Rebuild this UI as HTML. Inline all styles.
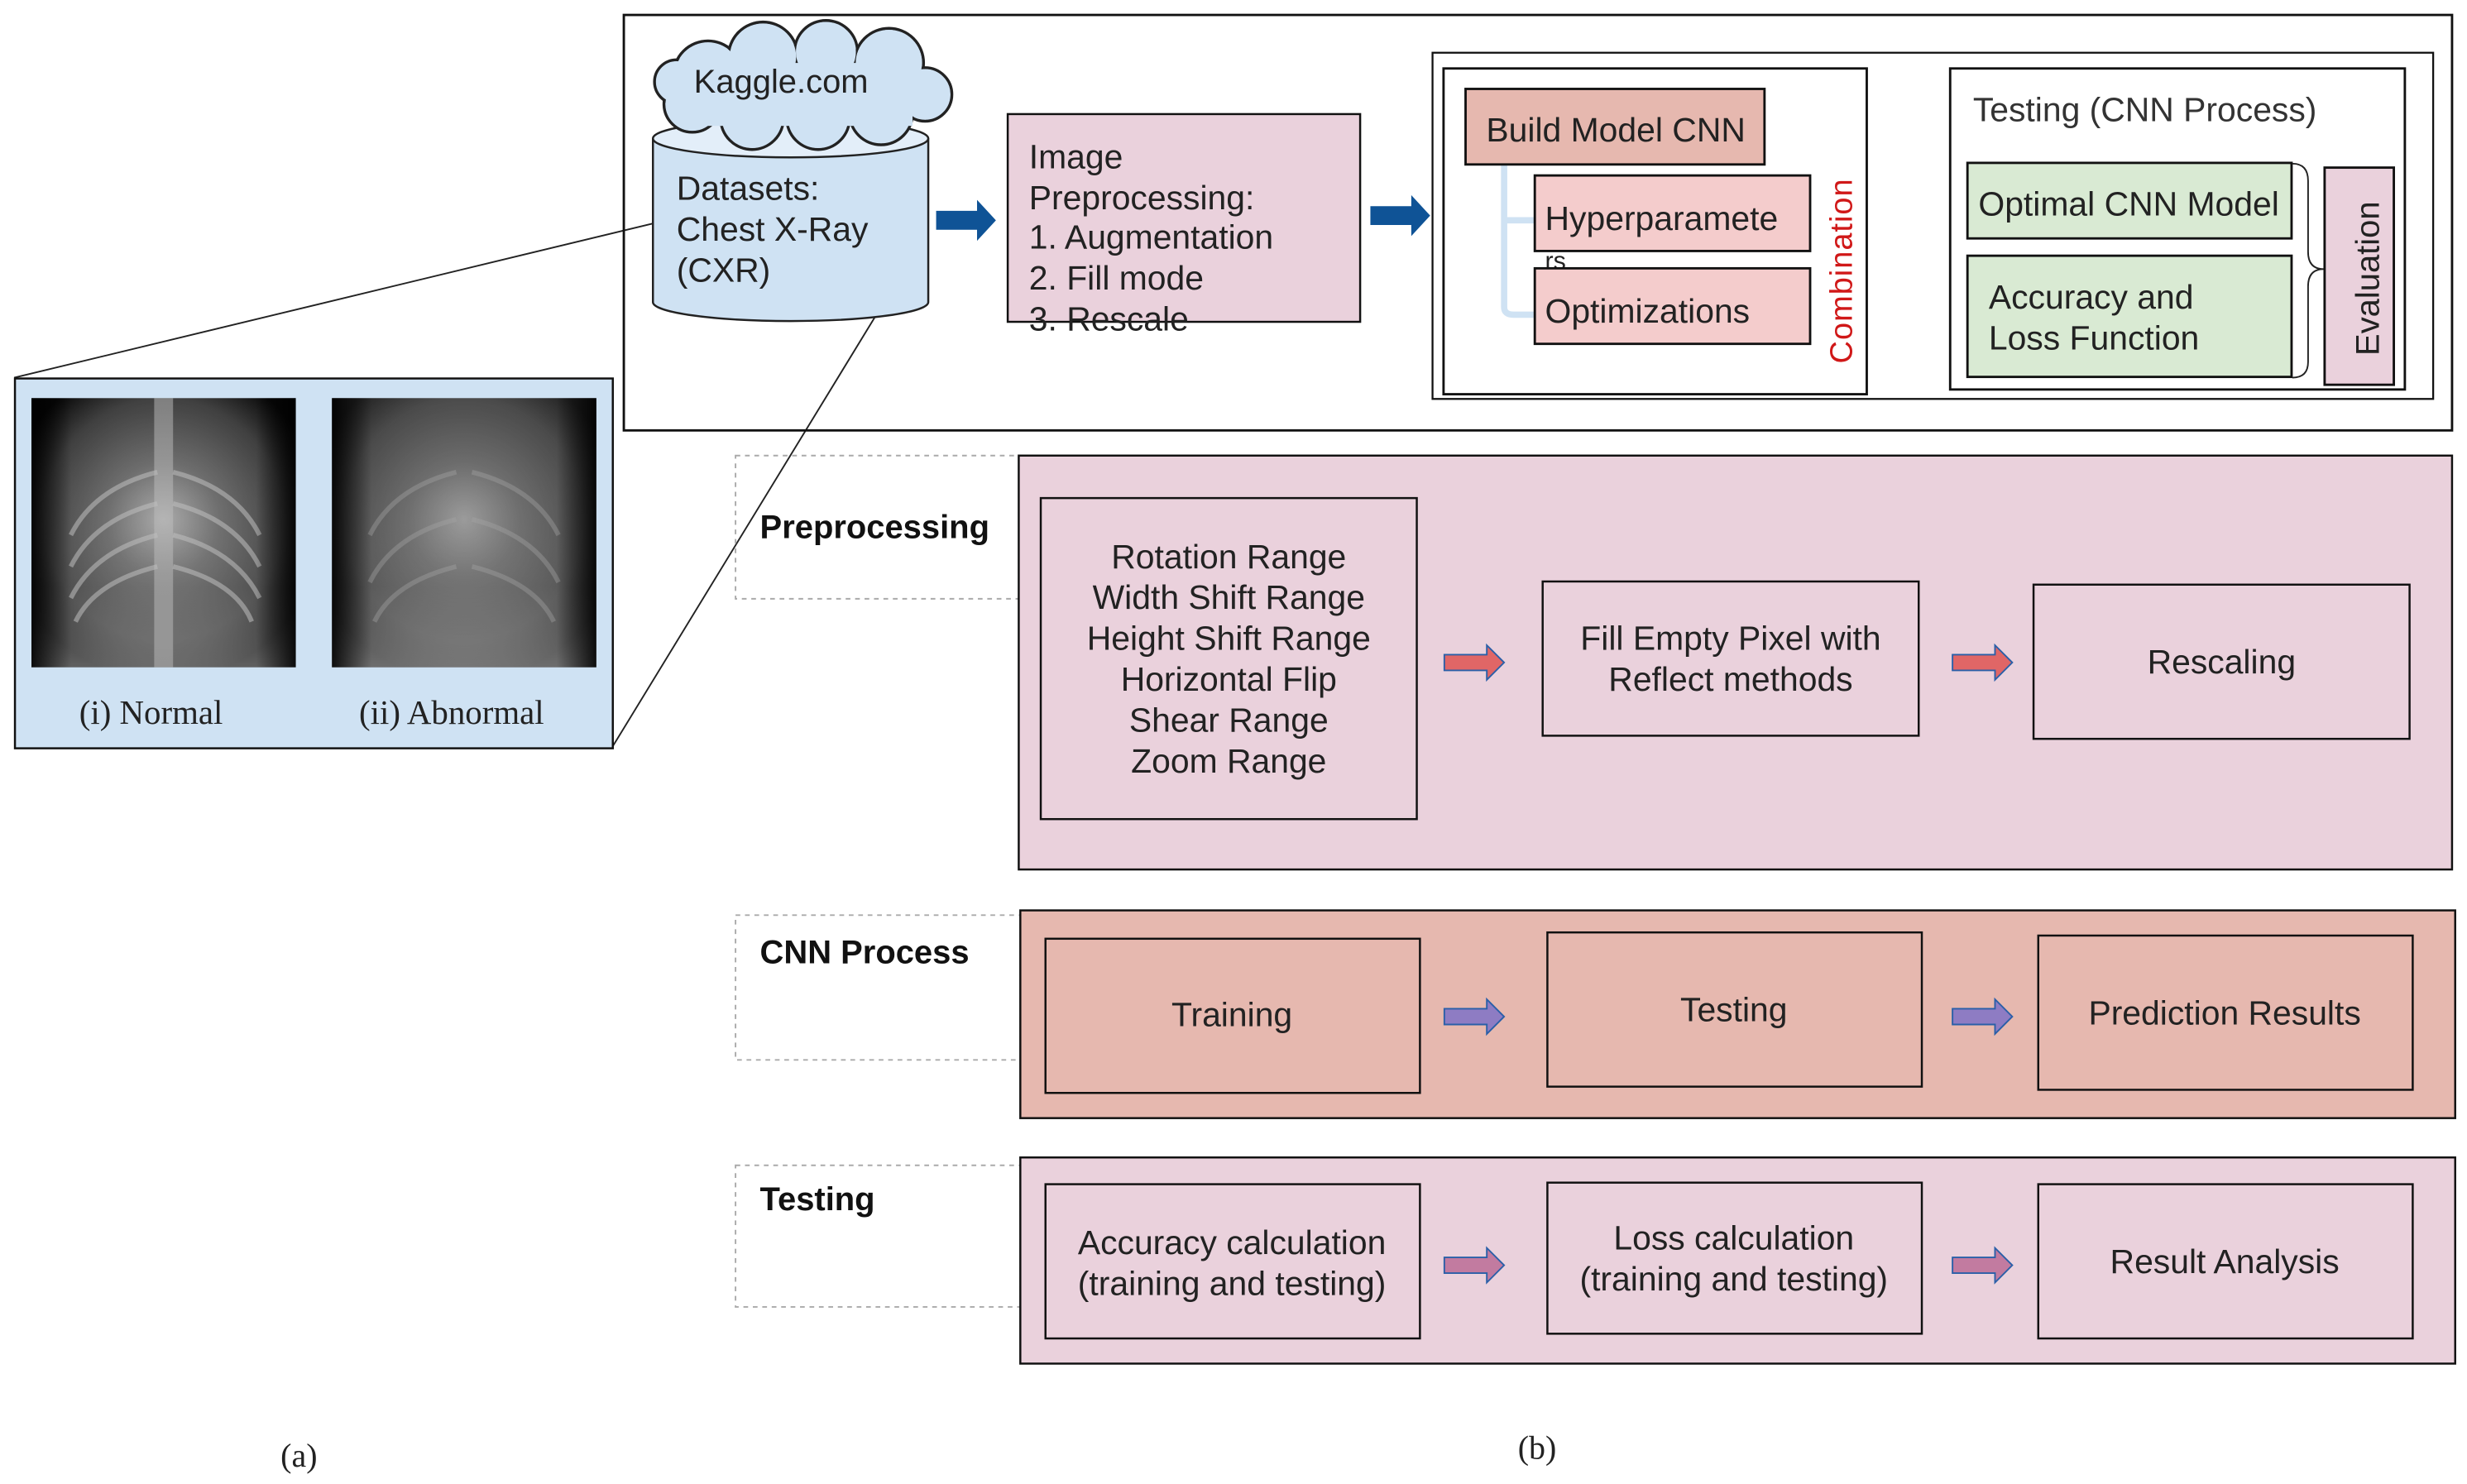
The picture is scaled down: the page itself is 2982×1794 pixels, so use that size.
<!DOCTYPE html>
<html><head><meta charset="utf-8"><style>
html,body{margin:0;padding:0;background:#fff;}
svg{display:block;}
text{font-family:"Liberation Sans",Arial,sans-serif;fill:#222;}
.s{font-family:"Liberation Serif",serif;}
</style></head><body>
<svg width="2982" height="1794" viewBox="0 0 1568 943" preserveAspectRatio="none" xmlns="http://www.w3.org/2000/svg">
<defs>
<radialGradient id="xr1" cx="50%" cy="45%" r="60%">
<stop offset="0" stop-color="#d8d8d8"/><stop offset="0.35" stop-color="#8a8a8a"/><stop offset="0.75" stop-color="#505050"/><stop offset="1" stop-color="#0a0a0a"/>
</radialGradient>
<linearGradient id="xrh" x1="0" y1="0" x2="1" y2="0">
<stop offset="0" stop-color="#000" stop-opacity="0.9"/><stop offset="0.15" stop-color="#000" stop-opacity="0.2"/><stop offset="0.85" stop-color="#000" stop-opacity="0.2"/><stop offset="1" stop-color="#000" stop-opacity="0.9"/>
</linearGradient>
<linearGradient id="xrv" x1="0" y1="0" x2="0" y2="1">
<stop offset="0" stop-color="#000" stop-opacity="0"/><stop offset="0.7" stop-color="#fff" stop-opacity="0.1"/><stop offset="1" stop-color="#fff" stop-opacity="0.45"/>
</linearGradient>
</defs>

<line x1="9" y1="240" x2="415" y2="142" stroke="#222" stroke-width="1"/>
<line x1="389" y1="475" x2="557" y2="200" stroke="#222" stroke-width="1"/>

<rect x="396.5" y="9.5" width="1162" height="264" fill="none" stroke="#111" stroke-width="1.5"/>

<path d="M415,88 V192 A87.5,12 0 0 0 590,192 V88" fill="#cfe2f3" stroke="#222" stroke-width="1.3"/>
<ellipse cx="502.5" cy="88" rx="87.5" ry="12" fill="#e3eef9" stroke="#222" stroke-width="1.3"/>
<text x="430" y="127" font-size="21.5">Datasets:</text>
<text x="430" y="153" font-size="21.5">Chest X-Ray</text>
<text x="430" y="179" font-size="21.5">(CXR)</text>

<g stroke="#222" stroke-width="1.8" fill="#cfe2f3">
<circle cx="450" cy="48" r="22"/><circle cx="485" cy="36" r="22"/><circle cx="525" cy="33" r="20"/><circle cx="565" cy="40" r="22"/><circle cx="588" cy="60" r="17"/><circle cx="560" cy="72" r="20"/><circle cx="520" cy="75" r="20"/><circle cx="478" cy="75" r="20"/><circle cx="440" cy="66" r="18"/><circle cx="430" cy="52" r="14"/>
</g>
<g fill="#cfe2f3">
<circle cx="450" cy="48" r="21"/><circle cx="485" cy="36" r="21"/><circle cx="525" cy="33" r="19"/><circle cx="565" cy="40" r="21"/><circle cx="588" cy="60" r="16"/><circle cx="560" cy="72" r="19"/><circle cx="520" cy="75" r="19"/><circle cx="478" cy="75" r="19"/><circle cx="440" cy="66" r="17"/><circle cx="430" cy="52" r="13"/>
<rect x="440" y="40" width="140" height="40"/>
</g>
<text x="441" y="59" font-size="21">Kaggle.com</text>

<path d="M595,134 H621 V127 L633,140 L621,153 V146 H595 Z" fill="#0f5396"/>
<path d="M871,131 H897 V124 L909,137 L897,150 V143 H871 Z" fill="#0f5396"/>
<path d="M1194,139 H1220 V132 L1232,145 L1220,158 V151 H1194 Z" fill="#0f5396"/>

<rect x="640.5" y="72.5" width="224" height="132" fill="#ead1dc" stroke="#111" stroke-width="1.3"/>
<text x="654" y="107" font-size="21.5">Image</text>
<text x="654" y="133" font-size="21.5">Preprocessing:</text>
<text x="654" y="158" font-size="21.5">1. Augmentation</text>
<text x="654" y="184" font-size="21.5">2. Fill mode</text>
<text x="654" y="210" font-size="21.5">3. Rescale</text>

<rect x="910.5" y="33.5" width="636" height="220" fill="#fff" stroke="#111" stroke-width="1.2"/>
<rect x="917.5" y="43.5" width="269" height="207" fill="#fff" stroke="#111" stroke-width="1.5"/>
<rect x="1239.5" y="43.5" width="289" height="204" fill="#fff" stroke="#111" stroke-width="1.5"/>

<path d="M956,105 V195 Q956,200 962,200 H975 M956,140 H975" fill="none" stroke="#cfe2f3" stroke-width="4"/>
<rect x="931.5" y="56.5" width="190" height="48" fill="#e6b8af" stroke="#111" stroke-width="1.5"/>
<text x="1027" y="90" font-size="21.5" text-anchor="middle">Build Model CNN</text>
<rect x="975.5" y="111.5" width="175" height="48" fill="#f4cccc" stroke="#111" stroke-width="1.5"/>
<text x="982" y="146" font-size="21.5">Hyperparamete</text>
<text x="982" y="171" font-size="16">rs</text>
<rect x="975.5" y="170.5" width="175" height="48" fill="#f4cccc" stroke="#111" stroke-width="1.5"/>
<text x="982" y="205" font-size="21.5">Optimizations</text>
<text transform="translate(1177,231) rotate(-90)" font-size="20" style="fill:#d01818" letter-spacing="0.5">Combination</text>

<text x="1254" y="77" font-size="21.5" style="fill:#333">Testing (CNN Process)</text>
<rect x="1250.5" y="103.5" width="206" height="48" fill="#d9ead3" stroke="#111" stroke-width="1.5"/>
<text x="1353" y="137" font-size="21.5" text-anchor="middle">Optimal CNN Model</text>
<rect x="1250.5" y="162.5" width="206" height="77" fill="#d9ead3" stroke="#111" stroke-width="1.5"/>
<text x="1264" y="196" font-size="21.5">Accuracy and</text>
<text x="1264" y="222" font-size="21.5">Loss Function</text>
<path d="M1457,104 Q1467,104 1467,115 V160 Q1467,171 1477,171 Q1467,171 1467,182 V230 Q1467,240 1457,240" fill="none" stroke="#222" stroke-width="1"/>
<rect x="1477.5" y="106.5" width="44" height="138" fill="#ead1dc" stroke="#111" stroke-width="1.5"/>
<text transform="translate(1512,226) rotate(-90)" font-size="21">Evaluation</text>

<rect x="9.5" y="240.5" width="380" height="235" fill="#cfe2f3" stroke="#111" stroke-width="1.3"/>
<rect x="20" y="253" width="168" height="171" fill="url(#xr1)"/>
<rect x="20" y="253" width="168" height="171" fill="url(#xrv)"/>
<g stroke="#eee" stroke-opacity="0.55" stroke-width="3" fill="none">
<path d="M100,300 Q60,310 45,340 M100,320 Q60,330 45,360 M100,340 Q60,350 45,380 M100,360 Q60,370 48,395"/>
<path d="M110,300 Q150,310 165,340 M110,320 Q150,330 165,360 M110,340 Q150,350 165,380 M110,360 Q150,370 160,395"/>
</g>
<rect x="98" y="253" width="12" height="171" fill="#eee" fill-opacity="0.5"/>
<rect x="20" y="253" width="168" height="171" fill="url(#xrh)"/>
<rect x="211" y="253" width="168" height="171" fill="url(#xr1)"/>
<rect x="211" y="253" width="168" height="171" fill="#888" fill-opacity="0.25"/>
<rect x="211" y="253" width="168" height="171" fill="url(#xrv)"/>
<g stroke="#ccc" stroke-opacity="0.4" stroke-width="3" fill="none">
<path d="M290,300 Q250,310 235,340 M290,330 Q250,340 235,370 M290,360 Q250,370 238,395"/>
<path d="M300,300 Q340,310 355,340 M300,330 Q340,340 355,370 M300,360 Q340,370 352,395"/>
</g>
<rect x="211" y="253" width="168" height="171" fill="url(#xrh)"/>
<text x="96" y="460" font-size="21.5" text-anchor="middle" class="s">(i) Normal</text>
<text x="287" y="460" font-size="21.5" text-anchor="middle" class="s">(ii) Abnormal</text>

<rect x="467.5" y="289.5" width="180" height="91" fill="none" stroke="#aaa" stroke-width="1" stroke-dasharray="3,3"/>
<text x="483" y="342" font-size="21" font-weight="bold" style="fill:#111">Preprocessing</text>
<rect x="647.5" y="289.5" width="911" height="263" fill="#ead1dc" stroke="#111" stroke-width="1.3"/>
<rect x="661.5" y="316.5" width="239" height="204" fill="#ead1dc" stroke="#111" stroke-width="1.3"/>
<g font-size="21.5" text-anchor="middle">
<text x="781" y="361">Rotation Range</text>
<text x="781" y="387">Width Shift Range</text>
<text x="781" y="413">Height Shift Range</text>
<text x="781" y="439">Horizontal Flip</text>
<text x="781" y="465">Shear Range</text>
<text x="781" y="491">Zoom Range</text>
</g>
<rect x="980.5" y="369.5" width="239" height="98" fill="#ead1dc" stroke="#111" stroke-width="1.3"/>
<text x="1100" y="413" font-size="21.5" text-anchor="middle">Fill Empty Pixel with</text>
<text x="1100" y="439" font-size="21.5" text-anchor="middle">Reflect methods</text>
<rect x="1292.5" y="371.5" width="239" height="98" fill="#ead1dc" stroke="#111" stroke-width="1.3"/>
<text x="1412" y="428" font-size="21.5" text-anchor="middle">Rescaling</text>
<g fill="#e06666" stroke="#2a5fa8" stroke-width="1">
<path d="M918,416 H945 V410 L956,421 L945,432 V426 H918 Z"/>
<path d="M1241,416 H1268 V410 L1279,421 L1268,432 V426 H1241 Z"/>
</g>

<rect x="467.5" y="581.5" width="181" height="92" fill="none" stroke="#aaa" stroke-width="1" stroke-dasharray="3,3"/>
<text x="483" y="612" font-size="21" font-weight="bold" style="fill:#111">CNN Process</text>
<rect x="648.5" y="578.5" width="912" height="132" fill="#e6b8af" stroke="#111" stroke-width="1.3"/>
<rect x="664.5" y="596.5" width="238" height="98" fill="#e6b8af" stroke="#111" stroke-width="1.3"/>
<text x="783" y="652" font-size="21.5" text-anchor="middle">Training</text>
<rect x="983.5" y="592.5" width="238" height="98" fill="#e6b8af" stroke="#111" stroke-width="1.3"/>
<text x="1102" y="649" font-size="21.5" text-anchor="middle">Testing</text>
<rect x="1295.5" y="594.5" width="238" height="98" fill="#e6b8af" stroke="#111" stroke-width="1.3"/>
<text x="1414" y="651" font-size="21.5" text-anchor="middle">Prediction Results</text>
<g fill="#8e7cc3" stroke="#2a5fa8" stroke-width="1">
<path d="M918,641 H945 V635 L956,646 L945,657 V651 H918 Z"/>
<path d="M1241,641 H1268 V635 L1279,646 L1268,657 V651 H1241 Z"/>
</g>

<rect x="467.5" y="740.5" width="181" height="90" fill="none" stroke="#aaa" stroke-width="1" stroke-dasharray="3,3"/>
<text x="483" y="769" font-size="21" font-weight="bold" style="fill:#111">Testing</text>
<rect x="648.5" y="735.5" width="912" height="131" fill="#ead1dc" stroke="#111" stroke-width="1.3"/>
<rect x="664.5" y="752.5" width="238" height="98" fill="#ead1dc" stroke="#111" stroke-width="1.3"/>
<text x="783" y="797" font-size="21.5" text-anchor="middle">Accuracy calculation</text>
<text x="783" y="823" font-size="21.5" text-anchor="middle">(training and testing)</text>
<rect x="983.5" y="751.5" width="238" height="96" fill="#ead1dc" stroke="#111" stroke-width="1.3"/>
<text x="1102" y="794" font-size="21.5" text-anchor="middle">Loss calculation</text>
<text x="1102" y="820" font-size="21.5" text-anchor="middle">(training and testing)</text>
<rect x="1295.5" y="752.5" width="238" height="98" fill="#ead1dc" stroke="#111" stroke-width="1.3"/>
<text x="1414" y="809" font-size="21.5" text-anchor="middle">Result Analysis</text>
<g fill="#c27ba0" stroke="#2a5fa8" stroke-width="1">
<path d="M918,799 H945 V793 L956,804 L945,815 V809 H918 Z"/>
<path d="M1241,799 H1268 V793 L1279,804 L1268,815 V809 H1241 Z"/>
</g>

<text x="190" y="932" font-size="21" text-anchor="middle" class="s">(a)</text>
<text x="977" y="927" font-size="21" text-anchor="middle" class="s">(b)</text>
</svg>
</body></html>
